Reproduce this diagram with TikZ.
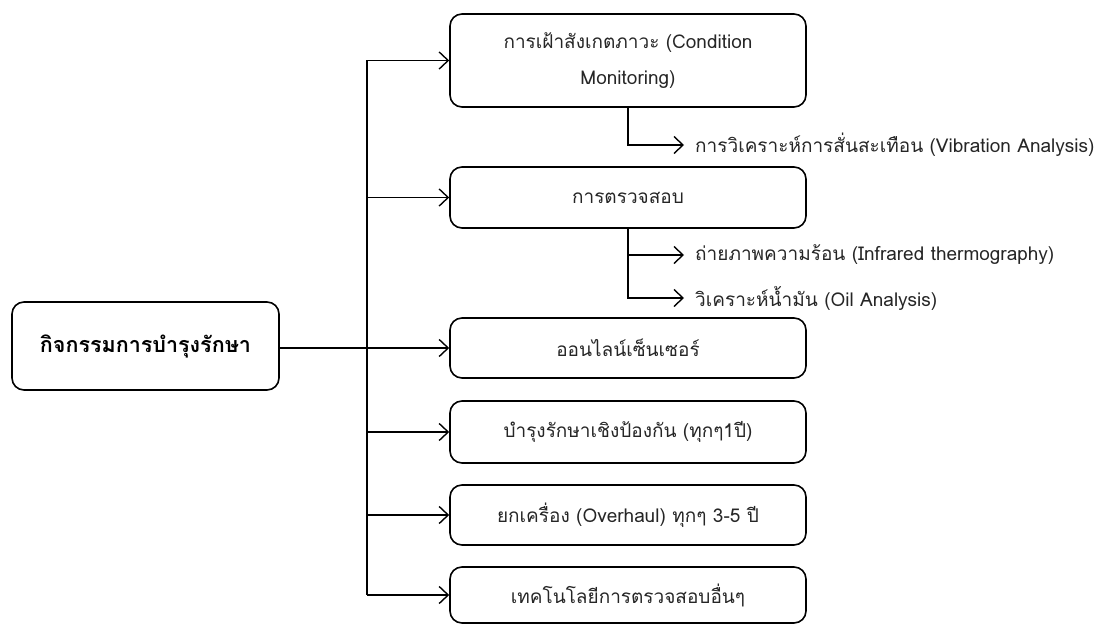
\documentclass[tikz,border=0pt]{standalone}
\usepackage{fontspec}
\setmainfont[Script=Thai]{Loma}
\usetikzlibrary{arrows.meta}
\begin{document}
\begin{tikzpicture}[x=1pt,y=-1pt,
  box/.style={draw, rounded corners=12pt, line width=1.6pt, align=center,
    inner sep=0pt, minimum width=356pt, text=black!85,
    font=\fontsize{19}{36}\selectfont},
  link/.style={line width=1.4pt},
  arr/.style={link, -{Straight Barb[length=9pt,width=17pt,line width=1.4pt]}},
  lbl/.style={anchor=west, inner sep=0pt, text=black!85,
    font=\fontsize{19}{23}\selectfont}]
\useasboundingbox (0,0) rectangle (1104,626);

% root activity
\node[box, minimum width=267pt, minimum height=88pt, text=black,
  font=\bfseries\fontsize{21.5}{26}\selectfont]
  (main) at (145.5,346) {กิจกรรมการบำรุงรักษา};

% activity boxes
\node[box, minimum height=93pt] (b1) at (628,60.5)
  {การเฝ้าสังเกตภาวะ (Condition\\Monitoring)};
\node[box, minimum height=61pt] (b2) at (628,197.5) {การตรวจสอบ};
\node[box, minimum height=60pt] (b3) at (628,348) {ออนไลน์เซ็นเซอร์};
\node[box, minimum height=62pt] (b4) at (628,432) {บำรุงรักษาเชิงป้องกัน (ทุกๆ1ปี)};
\node[box, minimum height=60pt] (b5) at (628,515) {ยกเครื่อง (Overhaul) ทุกๆ 3-5 ปี};
\node[box, minimum height=56pt] (b6) at (628,595) {เทคโนโลยีการตรวจสอบอื่นๆ};

% sub-activities
\node[lbl] (vib) at (695,145) {การวิเคราะห์การสั่นสะเทือน (Vibration Analysis)};
\node[lbl] (inf) at (695,255) {ถ่ายภาพความร้อน (Infrared thermography)};
\node[lbl] (oil) at (695,298) {วิเคราะห์น้ำมัน (Oil Analysis)};

% trunk and branches
\coordinate (t) at (367,0);
\draw[link] (main.east |- b3.west) -- (b3.west -| t);
\draw[link] (b1.west -| t) -- (b6.west -| t);
\foreach \b in {b1,b2,b3,b4,b5,b6}
  \draw[arr] (\b.west -| t) -- (\b.west);

\draw[arr] (b1.south) |- ([xshift=-11pt]vib.west);
\draw[arr] (b2.south) |- ([xshift=-11pt]inf.west);
\draw[arr] (b2.south) |- ([xshift=-11pt]oil.west);
\end{tikzpicture}
\end{document}
